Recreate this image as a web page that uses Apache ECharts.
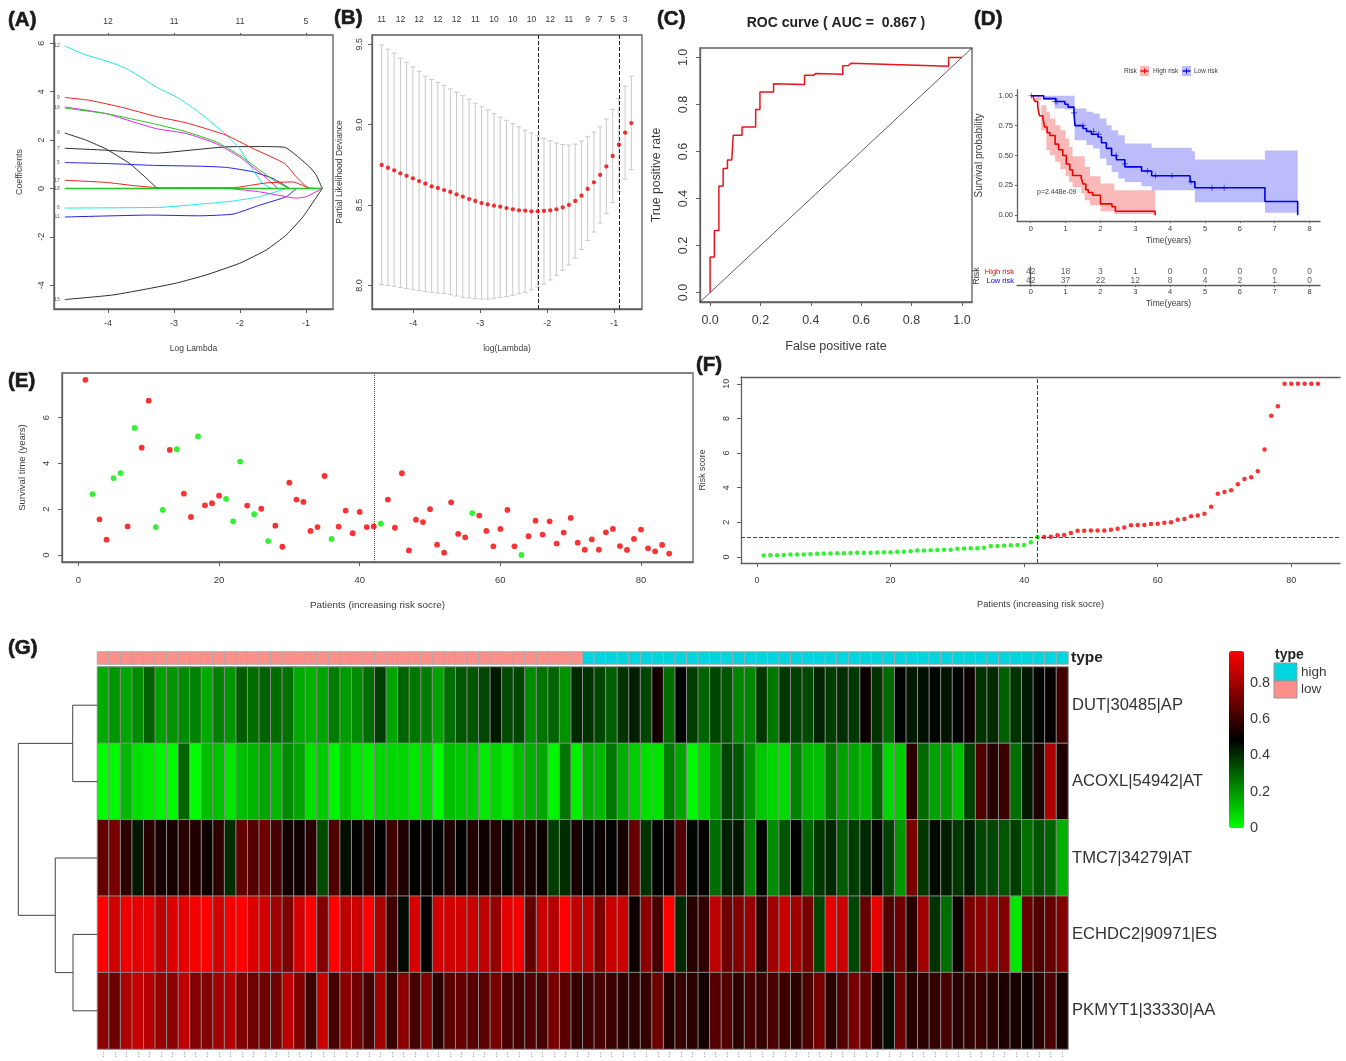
<!DOCTYPE html>
<html><head><meta charset="utf-8">
<style>html,body{margin:0;padding:0;background:#fff}#c{width:1346px;height:1061px;filter:blur(.35px)}</style>
<script src="https://cdn.jsdelivr.net/npm/echarts@6/dist/echarts.min.js"></script>
</head><body><div id="c"></div>
<script>
// ---------- Panel A: LASSO coefficient paths [log lambda, coefficient]
const coefCyan12=[[-4.657,5.89],[-4.379,5.56],[-3.899,5.15],[-3.672,4.88],[-3.268,4.19],[-2.965,3.78],[-2.662,3.23],[-2.409,2.68],[-2.207,2.2],[-2.005,1.65],[-1.803,.76],[-1.652,.2],[-1.525,0]];
const coefRed9=[[-4.657,3.76],[-4.278,3.64],[-3.773,3.34],[-3.268,2.97],[-2.813,2.71],[-2.207,2.2],[-1.803,1.65],[-1.323,1.03],[-1.146,.48],[-.97,.03],[-.753,0]];
const coefGreen18=[[-4.657,3.32],[-4.025,3.09],[-3.268,2.65],[-2.813,2.34],[-2.359,1.92],[-2.005,1.37],[-1.702,.76],[-1.45,.27],[-1.247,0]];
const coefMagenta16=[[-4.657,3.37],[-4.025,3.09],[-3.621,2.75],[-3.268,2.47],[-2.813,2.27],[-2.359,1.85],[-2.005,1.3],[-1.652,.55],[-1.424,0]];
const coefMagentaNeg=[[-2.157,0],[-1.702,-.14],[-1.298,-.34],[-1.146,-.4],[-.995,-.34],[-.753,0]];
const coefBlack8=[[-4.657,2.29],[-4.328,1.99],[-4.025,1.62],[-3.672,1.03],[-3.47,.55],[-3.268,.04],[-3.217,0]];
const coefBlack7=[[-4.657,1.66],[-4.025,1.58],[-3.268,1.46],[-2.611,1.62],[-2.207,1.72],[-1.702,1.73],[-1.323,1.7],[-.945,.89],[-.844,.55],[-.753,0]];
const coefBlue5=[[-4.657,1.07],[-4.025,1.03],[-3.268,.95],[-2.611,.92],[-2.207,.87],[-1.803,.69],[-1.5,.41],[-1.247,0]];
const coefRed17=[[-4.657,.34],[-4.025,.25],[-3.621,.12],[-3.217,.03],[-2.106,.03],[-1.601,.23],[-1.197,.27],[-.97,.03]];
const coefGreenZero=[[-4.657,0],[-.753,0]];
const coefCyan6=[[-4.657,-.81],[-3.217,-.78],[-2.611,-.65],[-2.106,-.52],[-1.702,-.34],[-1.298,0]];
const coefBlue11=[[-4.657,-1.18],[-3.369,-1.1],[-2.611,-1.13],[-2.106,-1.06],[-1.702,-.69],[-1.298,-.34],[-1.146,0]];
const coefBlack15=[[-4.657,-4.59],[-3.924,-4.4],[-3.369,-4.13],[-2.965,-3.91],[-2.51,-3.57],[-2.005,-3.09],[-1.601,-2.54],[-1.298,-1.92],[-1.045,-1.17],[-.753,0]];
const coefTopTicks=[12,11,11,5];
const coefLabelled=[['12',coefCyan12],['9',coefRed9],['18',coefGreen18],['8',coefBlack8],['7',coefBlack7],['5',coefBlue5],['17',coefRed17],['18',coefGreenZero],['6',coefCyan6],['11',coefBlue11],['15',coefBlack15]];

// ---------- Panel B: cross-validation
const cvLambda=[-4.473,-4.38,-4.286,-4.193,-4.1,-4.007,-3.914,-3.821,-3.727,-3.634,-3.541,-3.448,-3.355,-3.262,-3.168,-3.075,-2.982,-2.889,-2.796,-2.703,-2.609,-2.516,-2.423,-2.33,-2.237,-2.144,-2.05,-1.957,-1.864,-1.771,-1.678,-1.584,-1.491,-1.398,-1.305,-1.212,-1.119,-1.025,-.932,-.839,-.746];
const cvMean=[8.749,8.732,8.716,8.697,8.682,8.666,8.649,8.633,8.616,8.606,8.593,8.581,8.566,8.552,8.537,8.525,8.512,8.504,8.496,8.49,8.481,8.473,8.467,8.465,8.461,8.461,8.463,8.467,8.473,8.485,8.5,8.525,8.558,8.6,8.641,8.687,8.74,8.805,8.875,8.95,9.01];
const cvUpper=[9.495,9.47,9.445,9.414,9.389,9.36,9.333,9.302,9.282,9.263,9.244,9.223,9.203,9.18,9.159,9.134,9.112,9.091,9.068,9.047,9.027,9.006,8.987,8.966,8.948,8.931,8.915,8.9,8.886,8.877,8.873,8.879,8.898,8.925,8.954,8.987,9.035,9.095,9.163,9.24,9.302];
const cvLower=[8.005,8.0,7.994,7.986,7.98,7.973,7.967,7.961,7.957,7.953,7.949,7.942,7.934,7.926,7.922,7.917,7.915,7.915,7.92,7.924,7.93,7.938,7.947,7.957,7.971,7.99,8.009,8.034,8.063,8.094,8.127,8.17,8.224,8.28,8.332,8.388,8.448,8.515,8.585,8.662,8.72];
const cvTopLambda=[-4.473,-4.193,-3.914,-3.634,-3.355,-3.075,-2.796,-2.516,-2.237,-1.957,-1.678,-1.398,-1.212,-1.025,-.839];
const cvTopCounts=[11,12,12,12,12,11,10,10,10,12,11,9,7,5,3];
const cvLambdaMin=-2.144, cvLambda1se=-.932;

// ---------- Panel C: ROC
const rocFpr=[0,0,.017,.017,.035,.035,.052,.052,.069,.069,.086,.092,.127,.127,.181,.181,.198,.198,.252,.252,.375,.375,.41,.42,.527,.527,.55,.559,.947,.947,1];
const rocTpr=[0,.151,.151,.264,.264,.453,.453,.528,.528,.564,.564,.669,.669,.704,.704,.778,.778,.853,.853,.888,.885,.924,.924,.932,.928,.965,.966,.975,.962,1,1];

// ---------- Panel D: Kaplan-Meier
const highTime=[0,.08,.13,.2,.25,.35,.4,.47,.55,.7,.8,.92,1.02,1.12,1.2,1.45,1.5,1.58,1.65,1.78,2.0,2.33,2.43,3.57];
const highSurv=[1,.976,.952,.905,.833,.81,.738,.69,.667,.595,.548,.5,.429,.381,.333,.31,.262,.214,.19,.167,.095,.071,.033,0];
const lowTime=[0,.37,.72,.98,1.07,1.24,1.27,1.5,1.6,1.74,1.93,2.03,2.17,2.32,2.46,2.7,3.18,3.47,4.57,4.71,6.72,7.66];
const lowSurv=[1,.976,.952,.929,.905,.857,.75,.726,.702,.678,.655,.607,.56,.5,.464,.405,.37,.33,.28,.23,.115,0];
const highBandTime=[0,.15,.3,.45,.55,.7,.85,1.0,1.1,1.2,1.45,1.55,1.7,2.0,2.4,3.57];
const highBandUp=[1,1,.92,.866,.81,.754,.712,.642,.573,.494,.494,.405,.327,.265,.209,.209];
const highBandLo=[1,.96,.712,.545,.503,.447,.383,.327,.279,.237,.182,.126,.084,.034,.011,.011];
const lowBandTime=[0,.37,.69,.98,1.26,1.6,1.79,1.98,2.17,2.32,2.51,2.7,3.18,3.47,4.62,4.71,6.72,7.66];
const lowBandUp=[1,1,1,1,.894,.866,.852,.81,.754,.712,.67,.6,.6,.564,.536,.466,.542,.542];
const lowBandLo=[1,.964,.894,.885,.628,.587,.559,.475,.419,.363,.307,.279,.243,.209,.209,.109,.022,.022];
const lowCensor=[[.7,.952],[.75,.952],[1.24,.857],[1.5,.75],[1.8,.702],[1.95,.678],[2.45,.5],[2.7,.43],[3.35,.37],[3.58,.33],[4.05,.33],[4.6,.28],[5.2,.23],[5.55,.23]];
const highCensor=[[.02,1]];
const atRiskTimes=[0,1,2,3,4,5,6,7,8];
const atRiskHigh=[42,18,3,1,0,0,0,0,0];
const atRiskLow=[42,37,22,12,8,4,2,1,0];

// ---------- Panel E: survival time, status by patient rank
const survivalTime=[7.65,2.66,1.56,.67,3.36,3.58,1.25,5.55,4.69,6.74,1.22,1.97,4.59,4.62,2.68,1.66,5.18,2.17,2.26,2.59,2.45,1.47,4.08,2.16,1.78,2.02,.61,1.28,.36,3.16,2.42,2.32,1.05,1.22,3.45,.7,1.24,1.94,.95,1.88,1.22,1.25,1.37,2.42,1.19,3.57,.2,1.54,1.44,2.0,.45,.1,2.3,.92,.77,1.83,1.72,1.05,.38,1.14,1.97,.38,0,.82,1.5,.89,1.47,.5,.98,1.62,.54,.23,.68,.23,.99,1.14,.39,.22,.7,1.11,.29,.16,.44,.06];
const alivePatients=[2,5,6,8,11,12,14,17,21,22,23,25,27,36,43,56,63];

// ---------- Panel F: risk score
const riskScore=[.08,.1,.1,.11,.14,.14,.15,.18,.19,.2,.2,.21,.22,.23,.24,.25,.25,.26,.27,.28,.3,.31,.33,.37,.38,.39,.41,.42,.42,.48,.49,.5,.5,.54,.63,.63,.65,.68,.7,.7,.85,1.15,1.15,1.17,1.25,1.27,1.38,1.52,1.52,1.53,1.53,1.53,1.57,1.63,1.7,1.84,1.85,1.85,1.9,1.92,1.98,2.0,2.15,2.2,2.35,2.4,2.5,2.9,3.65,3.75,3.85,4.2,4.5,4.6,4.95,6.2,8.15,8.7,10,10,10,10,10,10];
const riskCut=42, riskCutValue=1.15;

// ---------- Panel G: heat map
const geneNames=['DUT|30485|AP','ACOXL|54942|AT','TMC7|34279|AT','ECHDC2|90971|ES','PKMYT1|33330|AA'];
const heatDUT=[.16,.2,.17,.22,.3,.18,.2,.22,.24,.16,.24,.2,.31,.28,.3,.28,.27,.16,.15,.17,.25,.19,.22,.28,.37,.17,.296,.258,.249,.172,.277,.325,.325,.354,.44,.344,.354,.22,.268,.296,.21,.41,.39,.354,.306,.39,.43,.354,.526,.277,.48,.37,.296,.354,.325,.23,.23,.38,.258,.38,.363,.344,.42,.37,.4,.38,.516,.39,.287,.48,.44,.459,.478,.449,.48,.507,.39,.41,.306,.39,.44,.478,.497,.612];
const heatACOXL=[0,.01,.134,.057,.038,.019,.01,.296,0,.124,.115,.048,.124,.143,.172,.134,.22,.172,.057,.096,.019,.105,.048,.029,.077,.077,.077,.048,.077,0,.124,.105,.105,.038,.077,.038,.124,.153,.172,.019,.268,.029,.163,.134,.258,.153,.096,.057,.048,.249,.172,.01,.077,.18,.354,.325,.21,.105,.077,.067,.239,.134,.124,.258,.18,.172,.143,.296,.077,.096,.564,.287,.18,.2,.115,.363,.64,.564,.602,.277,.44,.545,.812,.545];
const heatTMC7=[.679,.717,.573,.44,.564,.526,.535,.564,.554,.516,.573,.4,.679,.65,.698,.621,.526,.516,.564,.344,.64,.459,.4875,.545,.4875,.612,.545,.4875,.507,.4875,.545,.4875,.554,.516,.554,.478,.573,.535,.516,.37,.4,.535,.482,.507,.482,.535,.679,.39,.4875,.497,.64,.478,.497,.277,.43,.449,.239,.478,.22,.325,.4875,.296,.38,.41,.315,.37,.41,.478,.363,.2,.717,.38,.468,.43,.38,.44,.354,.354,.325,.37,.277,.325,.296,.153];
const heatECHDC2=[.975,.879,.936,.927,.927,.85,.908,.927,.955,.965,.889,.955,.975,.908,.889,.793,.726,.889,.965,.736,.975,.85,.879,.965,.812,.612,.468,.898,.4875,.889,.889,.889,.87,.85,.774,.927,.946,.679,.87,.831,.975,.85,.85,.717,.87,.87,.516,.755,.621,.975,.41,.564,.583,.85,.698,.736,.774,.564,.793,.87,.793,.717,.354,.927,.87,.354,.679,.927,.64,.698,.564,.793,.39,.277,.516,.717,.755,.774,.736,.048,.679,.64,.679,.736];
const heatPKMYT1=[.755,.698,.812,.87,.831,.774,.755,.85,.736,.736,.793,.831,.736,.698,.698,.698,.85,.736,.602,.87,.621,.755,.698,.621,.793,.592,.755,.621,.736,.573,.66,.679,.66,.66,.717,.621,.621,.64,.621,.717,.66,.583,.612,.621,.602,.573,.564,.583,.698,.554,.592,.573,.526,.65,.65,.573,.621,.592,.631,.602,.573,.631,.717,.564,.65,.717,.679,.554,.459,.698,.564,.573,.592,.621,.564,.583,.592,.564,.545,.535,.507,.564,.631,.526];
const heatRows=[heatDUT,heatACOXL,heatTMC7,heatECHDC2,heatPKMYT1];
const lowGroupSize=42;
const colourTicks=[0,.2,.4,.6,.8];
const colourMax=.975;
// dendrogram merge heights (0 = leaves, 1 = root)
const mergeTop=.313, mergeEP=.309, mergeTEP=.533, mergeRoot=1;

// ---------- helpers
const FONT='"Liberation Sans", Arial, sans-serif';
const AX='#5f5f5f', TXT='#3a3a3a', AXW=1.3;
const chart=echarts.init(document.getElementById('c'),null,{renderer:'canvas'});

function valAxis(o){
  const a={type:'value',gridIndex:o.g,position:o.pos,min:o.min,max:o.max,scale:true,splitLine:{show:false},
    name:o.name||'',nameLocation:'middle',nameGap:o.gap||20,
    nameTextStyle:{fontFamily:FONT,fontSize:o.nameSize||9,color:TXT},
    axisLine:{show:o.line!==false,onZero:false,lineStyle:{color:AX,width:AXW}},
    axisTick:{show:o.tick!==false,length:o.tickLen||4,customValues:o.ticks,lineStyle:{color:AX,width:1}},
    axisLabel:{show:o.labels!==false,customValues:o.ticks,hideOverlap:false,showMinLabel:true,showMaxLabel:true,
      margin:o.margin||7,fontFamily:FONT,fontSize:o.size||9,color:TXT,rotate:o.rot||0,formatter:o.fmt}};
  if(o.nameRot!==undefined)a.nameRotate=o.nameRot;
  return a;
}
const lookup=(keys,vals)=>v=>{let best=0,d=1e9;keys.forEach((k,i)=>{if(Math.abs(k-v)<d){d=Math.abs(k-v);best=i}});return String(vals[best]);};
const boxed=(l,t,w,h)=>({left:l,top:t,width:w,height:h,show:true,borderColor:AX,borderWidth:AXW,backgroundColor:'transparent',containLabel:false});
const open=(l,t,w,h)=>({left:l,top:t,width:w,height:h,containLabel:false});
const panel=(text,left,top)=>({text,left,top,padding:0,textStyle:{fontFamily:FONT,fontSize:20.5,fontWeight:'bold',color:'#1a1a1a',textBorderColor:'#1a1a1a',textBorderWidth:.6}});

const grids=[
  boxed(54,35,279,274),      //0 A
  boxed(372,35,270,274),     //1 B
  boxed(700,48,272,254),     //2 C
  open(1017,90,303,131),     //3 D
  open(1017,267,303,18),     //4 D table
  boxed(62,373,631,189),     //5 E
  open(741,377,599,186),     //6 F
  open(97.5,667,970.5,382),  //7 heat
  open(97.5,652,970.5,12),   //8 annotation
  open(1229,651,15,177),     //9 colour axis
  open(18.3,667,79.2,382)    //10 dendrogram
];

const one2=v=>v.toFixed(2), one1=v=>v.toFixed(1);
const xAxes=[
  valAxis({g:0,pos:'bottom',min:-4.82,max:-.59,ticks:[-4,-3,-2,-1],name:'Log Lambda',gap:35,nameSize:8.5,size:9,margin:10}),
  valAxis({g:0,pos:'top',min:-4.82,max:-.59,ticks:[-4,-3,-2,-1],line:false,tickLen:2,size:8.5,margin:9,fmt:lookup([-4,-3,-2,-1],coefTopTicks)}),
  valAxis({g:1,pos:'bottom',min:-4.617,max:-.587,ticks:[-4,-3,-2,-1],name:'log(Lambda)',gap:35,nameSize:8.5,size:9,margin:10}),
  valAxis({g:1,pos:'top',min:-4.617,max:-.587,ticks:cvTopLambda,line:false,tick:false,size:8.5,margin:11,fmt:lookup(cvTopLambda,cvTopCounts)}),
  valAxis({g:2,pos:'bottom',min:-.04,max:1.04,ticks:[0,.2,.4,.6,.8,1],name:'False positive rate',gap:38,nameSize:12.5,size:12.5,margin:12,fmt:one1}),
  valAxis({g:3,pos:'bottom',min:-.394,max:8.3,ticks:atRiskTimes,name:'Time(years)',gap:15,nameSize:8.5,size:7.5,margin:4,tickLen:2}),
  valAxis({g:4,pos:'bottom',min:-.394,max:8.3,ticks:atRiskTimes,name:'Time(years)',gap:14,nameSize:8.5,size:7.5,margin:3,tickLen:2}),
  valAxis({g:5,pos:'bottom',min:-2.33,max:87.39,ticks:[0,20,40,60,80],name:'Patients (increasing risk socre)',gap:38,nameSize:9.9,size:9.5,margin:13}),
  valAxis({g:6,pos:'bottom',min:-2.4,max:87.3,ticks:[0,20,40,60,80],name:'Patients (increasing risk socre)',gap:37,nameSize:9.3,size:9,margin:13}),
  valAxis({g:6,pos:'top',min:-2.4,max:87.3,ticks:[],labels:false,tick:false}),
  {type:'category',gridIndex:7,data:heatDUT.map((_,i)=>String(i+1)),offset:3,axisLine:{show:false},splitLine:{show:false},
    axisTick:{show:true,interval:0,length:6,alignWithLabel:true,lineStyle:{color:'#aaa',width:1,type:'dotted'}},axisLabel:{show:false}},
  {type:'category',gridIndex:8,data:heatDUT.map((_,i)=>String(i+1)),axisLine:{show:false},axisTick:{show:false},axisLabel:{show:false},splitLine:{show:false}},
  valAxis({g:9,pos:'bottom',min:0,max:1,line:false,tick:false,labels:false,ticks:[]}),
  {type:'value',gridIndex:10,min:0,max:1,inverse:true,show:false}
];
const yAxes=[
  valAxis({g:0,pos:'left',min:-4.98,max:6.34,ticks:[-4,-2,0,2,4,6],name:'Coefficients',gap:30,nameSize:8.8,size:9,margin:8,rot:90}),
  valAxis({g:1,pos:'left',min:7.853,max:9.558,ticks:[8,8.5,9,9.5],name:'Partial Likelihood Deviance',gap:28,nameSize:8.6,size:9,margin:8,rot:90,fmt:one1}),
  valAxis({g:2,pos:'left',min:-.04,max:1.04,ticks:[0,.2,.4,.6,.8,1],name:'True positive rate',gap:37,nameSize:12.3,size:12.5,margin:10,rot:90,fmt:one1}),
  valAxis({g:3,pos:'left',min:-.048,max:1.048,ticks:[0,.25,.5,.75,1],name:'Survival probability',gap:33,nameSize:10,size:7.5,margin:4,tickLen:2,fmt:one2}),
  {type:'category',gridIndex:4,position:'left',inverse:true,data:['High risk','Low risk'],name:'Risk',nameLocation:'middle',nameGap:32,
    nameTextStyle:{fontFamily:FONT,fontSize:9,color:TXT},
    axisLine:{lineStyle:{color:AX,width:AXW}},axisTick:{length:2,alignWithLabel:false,lineStyle:{color:AX}},
    axisLabel:{interval:0,hideOverlap:false,fontFamily:FONT,fontSize:7.5,margin:3,color:v=>v==='High risk'?'#e00000':'#0000e0'}},
  valAxis({g:5,pos:'left',min:-.306,max:7.95,ticks:[0,2,4,6],name:'Survival time (years)',gap:35,nameSize:9.5,size:9.5,margin:11,rot:90}),
  valAxis({g:6,pos:'left',min:-.346,max:10.39,ticks:[0,2,4,6,8,10],name:'Risk score',gap:34,nameSize:8.8,size:9,margin:10,rot:90}),
  {type:'category',gridIndex:7,position:'right',inverse:true,data:geneNames,axisLine:{show:false},axisTick:{show:false},
    axisLabel:{interval:0,fontFamily:FONT,fontSize:16.6,color:'#333',margin:4}},
  {type:'category',gridIndex:8,position:'right',data:['type'],axisLine:{show:false},axisTick:{show:false},
    axisLabel:{fontFamily:FONT,fontSize:15.5,fontWeight:'bold',color:'#222',margin:3}},
  valAxis({g:9,pos:'right',min:0,max:colourMax,ticks:colourTicks,line:false,tick:false,size:14.5,margin:6,fmt:v=>v===0?'0':v.toFixed(1)}),
  {type:'value',gridIndex:10,min:0,max:5,inverse:true,show:false}
];
const ax=(x,y)=>({xAxisIndex:x,yAxisIndex:y});

const silentLine=(axes,data,color,width,extra)=>Object.assign({type:'line',silent:true,showSymbol:false,symbol:'none',data,lineStyle:{color,width},itemStyle:{color},animation:false,clip:true},axes,extra||{});
const vline=(v,type,color)=>({silent:true,symbol:'none',animation:false,label:{show:false},lineStyle:{color:color||'#222',type:type||'dashed',width:1},data:[{xAxis:v}]});

function stepBand(axes,times,up,lo,fill){
  return Object.assign({type:'custom',silent:true,animation:false,data:[[times[0],up[0]]],encode:{x:0,y:1},
    renderItem:(p,api)=>{
      const pts=[];
      times.forEach((t,i)=>{ if(i>0)pts.push(api.coord([t,up[i-1]])); pts.push(api.coord([t,up[i]])); });
      for(let i=times.length-1;i>=0;i--){ pts.push(api.coord([times[i],lo[i]])); if(i>0)pts.push(api.coord([times[i],lo[i-1]])); }
      return {type:'polygon',shape:{points:pts},style:{fill}};
    }},axes);
}
const plus='path://M4.4 0H5.6V4.4H10V5.6H5.6V10H4.4V5.6H0V4.4H4.4Z';

const coefSeries=[
  [coefBlack15,'#2b2b2b'],[coefBlack8,'#2b2b2b'],[coefBlack7,'#2b2b2b'],
  [coefBlue5,'#2222e0'],[coefBlue11,'#2222e0'],
  [coefCyan12,'#22e6e6'],[coefCyan6,'#22e6e6'],
  [coefMagenta16,'#e620e6'],[coefMagentaNeg,'#e620e6'],
  [coefGreen18,'#22c522'],[coefRed9,'#e82222'],[coefRed17,'#e82222'],
  [coefGreenZero,'#22c522']
].map(([d,c])=>silentLine(ax(0,0),d,c,d===coefGreenZero?1.5:1,{smooth:.15}));

const series=[
  ...coefSeries,
  {type:'scatter',...ax(0,0),silent:true,animation:false,symbolSize:0,
    data:coefLabelled.map(([n,d])=>({value:d[0],name:n})),
    label:{show:true,position:'left',distance:5,fontSize:5,fontFamily:FONT,color:'#333',formatter:p=>p.name}},

  // B
  {type:'custom',...ax(2,1),silent:true,animation:false,data:cvLambda.map((x,i)=>[x,cvLower[i],cvUpper[i]]),encode:{x:0,y:[1,2]},
    renderItem:(p,api)=>{
      const lo=api.coord([api.value(0),api.value(1)]),hi=api.coord([api.value(0),api.value(2)]);
      const s={stroke:'#c9c9c9',lineWidth:1,fill:null};
      return {type:'group',children:[
        {type:'line',shape:{x1:lo[0],y1:lo[1],x2:hi[0],y2:hi[1]},style:s},
        {type:'line',shape:{x1:lo[0]-2.5,y1:lo[1],x2:lo[0]+2.5,y2:lo[1]},style:s},
        {type:'line',shape:{x1:hi[0]-2.5,y1:hi[1],x2:hi[0]+2.5,y2:hi[1]},style:s}]};
    }},
  {type:'scatter',...ax(2,1),silent:true,animation:false,symbolSize:4.3,itemStyle:{color:'#f00000'},z:5,
    data:cvLambda.map((x,i)=>[x,cvMean[i]]),
    markLine:{...vline(cvLambdaMin),data:[{xAxis:cvLambdaMin},{xAxis:cvLambda1se}]}},

  // C
  silentLine(ax(4,2),[[-.04,-.04],[1.04,1.04]],'#333',.8),
  silentLine(ax(4,2),rocFpr.map((x,i)=>[x,rocTpr[i]]),'#e8141c',1.5),

  // D
  stepBand(ax(5,3),highBandTime,highBandUp,highBandLo,'rgba(240,60,60,.36)'),
  stepBand(ax(5,3),lowBandTime,lowBandUp,lowBandLo,'rgba(60,60,240,.34)'),
  silentLine(ax(5,3),highTime.map((t,i)=>[t,highSurv[i]]),'#f00000',1.6,{step:'end'}),
  silentLine(ax(5,3),lowTime.map((t,i)=>[t,lowSurv[i]]),'#0000e6',1.6,{step:'end'}),
  {type:'scatter',...ax(5,3),silent:true,animation:false,symbol:plus,symbolSize:6,itemStyle:{color:'#0000e6'},data:lowCensor},
  {type:'scatter',...ax(5,3),silent:true,animation:false,symbol:plus,symbolSize:6,itemStyle:{color:'#f00000'},data:highCensor},
  {type:'scatter',...ax(6,4),silent:true,animation:false,symbolSize:0,
    data:atRiskTimes.map((t,i)=>({value:[t,'High risk'],name:String(atRiskHigh[i])})),
    label:{show:true,position:'inside',fontSize:8.5,fontFamily:FONT,color:'#333',formatter:p=>p.name}},
  {type:'scatter',...ax(6,4),silent:true,animation:false,symbolSize:0,
    data:atRiskTimes.map((t,i)=>({value:[t,'Low risk'],name:String(atRiskLow[i])})),
    label:{show:true,position:'inside',fontSize:8.5,fontFamily:FONT,color:'#333',formatter:p=>p.name}},

  // E
  {type:'scatter',...ax(7,5),silent:true,animation:false,symbolSize:5.8,itemStyle:{color:'#f50000'},
    data:survivalTime.map((v,i)=>[i+1,v]).filter(p=>!alivePatients.includes(p[0])),
    markLine:vline(riskCut,'dotted','#444')},
  {type:'scatter',...ax(7,5),silent:true,animation:false,symbolSize:5.8,itemStyle:{color:'#00ee00'},
    data:survivalTime.map((v,i)=>[i+1,v]).filter(p=>alivePatients.includes(p[0]))},

  // F
  {type:'scatter',...ax(8,6),silent:true,animation:false,symbolSize:4.5,itemStyle:{color:'#f50000'},
    data:riskScore.map((v,i)=>[i+1,v]).filter(p=>p[0]>riskCut),
    markLine:{silent:true,symbol:'none',animation:false,label:{show:false},lineStyle:{color:'#444',type:'dashed',width:1},
      data:[{xAxis:riskCut},{yAxis:riskCutValue}]}},
  {type:'scatter',...ax(8,6),silent:true,animation:false,symbolSize:4.5,itemStyle:{color:'#00ee00'},
    data:riskScore.map((v,i)=>[i+1,v]).filter(p=>p[0]<=riskCut)},

  // G heat map (index recorded below for visualMap)
  {id:'heat',type:'heatmap',...ax(10,7),silent:true,animation:false,progressive:0,
    data:heatRows.flatMap((row,r)=>row.map((v,c)=>[c,r,v])),
    itemStyle:{borderColor:'#8a8a8a',borderWidth:1},emphasis:{disabled:true}},
  {type:'heatmap',...ax(11,8),silent:true,animation:false,progressive:0,emphasis:{disabled:true},
    data:heatDUT.map((_,c)=>({value:[c,0,c<lowGroupSize?1:2],itemStyle:{color:c<lowGroupSize?'#ff8f88':'#00d5e0',borderColor:'#aaa',borderWidth:1}}))},
  // colour-scale axis anchor
  {type:'line',...ax(12,9),silent:true,data:[],showSymbol:false},
  // dendrogram
  silentLine(ax(13,10),[[0,.5],[mergeTop,.5],[mergeTop,1.5],[0,1.5]],'#444',1),
  silentLine(ax(13,10),[[0,3.5],[mergeEP,3.5],[mergeEP,4.5],[0,4.5]],'#444',1),
  silentLine(ax(13,10),[[0,2.5],[mergeTEP,2.5],[mergeTEP,4],[mergeEP,4]],'#444',1),
  silentLine(ax(13,10),[[mergeTop,1],[mergeRoot,1],[mergeRoot,3.25],[mergeTEP,3.25]],'#444',1)
];
const heatIndex=series.findIndex(s=>s.id==='heat');

const gText=(x,y,text,size,extra)=>({type:'text',x,y,silent:true,style:Object.assign({text,fontFamily:FONT,fontSize:size,fill:TXT,verticalAlign:'middle',align:'left'},extra||{})});
const gRect=(x,y,w,h,fill,stroke)=>({type:'rect',silent:true,shape:{x,y,width:w,height:h},style:{fill,stroke:stroke||null,lineWidth:1}});
const keyLine=(x,y,c)=>[{type:'line',silent:true,shape:{x1:x-4,y1:y,x2:x+4,y2:y},style:{stroke:c,lineWidth:1.4}},{type:'line',silent:true,shape:{x1:x,y1:y-2.5,x2:x,y2:y+2.5},style:{stroke:c,lineWidth:1}}];

chart.setOption({
  animation:false,backgroundColor:'#fff',textStyle:{fontFamily:FONT},
  title:[
    panel('(A)',8,10),panel('(B)',334,8),panel('(C)',657,9),panel('(D)',974,9),
    panel('(E)',8,371),panel('(F)',696,355),panel('(G)',8,638),
    {text:'ROC curve ( AUC =  0.867 )',left:836,top:16,textAlign:'center',padding:0,textStyle:{fontFamily:FONT,fontSize:14,fontWeight:'bold',color:'#222'}}
  ],
  grid:grids,xAxis:xAxes,yAxis:yAxes,series,
  visualMap:[{type:'continuous',seriesIndex:heatIndex,dimension:2,min:0,max:colourMax,calculable:false,
    left:1229,top:651,itemWidth:15,itemHeight:177,padding:0,text:null,showLabel:false,
    inRange:{color:['#00ff00','#000000','#ff0000']},textStyle:{color:'rgba(0,0,0,0)',fontSize:1}}],
  graphic:[
    gText(1037,192,'p=2.448e-09',7),
    gText(1124,71.5,'Risk',6.5),
    gRect(1140,66,9,10,'rgba(240,60,60,.36)'),...keyLine(1144.5,71,'#f00000'),
    gText(1153,71.5,'High risk',6.5),
    gRect(1182,66,9,10,'rgba(60,60,240,.34)'),...keyLine(1186.5,71,'#0000e6'),
    gText(1194,71.5,'Low risk',6.5),
    gText(1275,655.5,'type',14,{fontWeight:'bold',fill:'#222'}),
    gRect(1274,663,23,18,'#00d5e0','#999'),
    gRect(1274,681,23,17,'#ff8f88','#999'),
    gText(1301,672.5,'high',13.5),
    gText(1301,689.5,'low',13.5)
  ]
});
</script></body></html>
